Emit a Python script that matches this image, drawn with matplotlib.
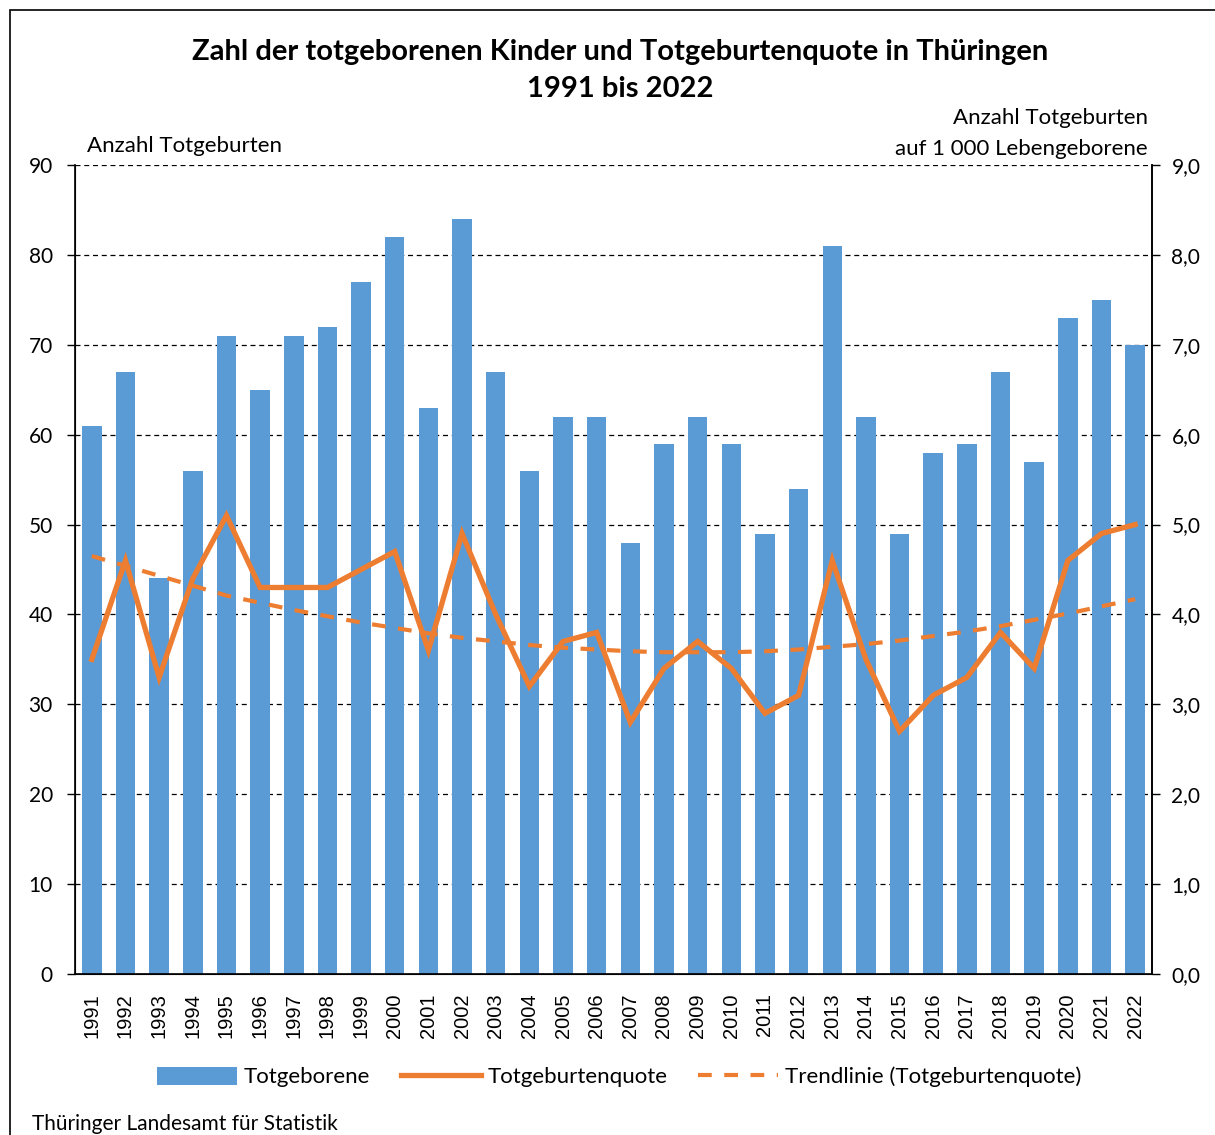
import matplotlib
matplotlib.use("Agg")
import matplotlib.pyplot as plt
from matplotlib.lines import Line2D
from matplotlib.patches import Patch, Rectangle

plt.rcParams['font.family'] = ['Lato', 'DejaVu Sans']

years = [str(y) for y in range(1991, 2023)]
totgeborene = [61, 67, 44, 56, 71, 65, 71, 72, 77, 82, 63, 84, 67, 56, 62, 62,
               48, 59, 62, 59, 49, 54, 81, 62, 49, 58, 59, 67, 57, 73, 75, 70]
quote = [3.5, 4.6, 3.3, 4.4, 5.1, 4.3, 4.3, 4.3, 4.5, 4.7, 3.6, 4.9, 4.0, 3.2, 3.7, 3.8,
         2.8, 3.4, 3.7, 3.4, 2.9, 3.1, 4.6, 3.5, 2.7, 3.1, 3.3, 3.8, 3.4, 4.6, 4.9, 5.0]
trend = [4.65, 4.54, 4.43, 4.32, 4.21, 4.13, 4.05, 3.98, 3.91, 3.85, 3.79, 3.74, 3.70, 3.66,
         3.63, 3.61, 3.59, 3.58, 3.58, 3.58, 3.59, 3.61, 3.64, 3.67, 3.71, 3.76, 3.81, 3.87,
         3.94, 4.01, 4.09, 4.17]
left_ticks = [0, 10, 20, 30, 40, 50, 60, 70, 80, 90]
right_labels = ['0,0', '1,0', '2,0', '3,0', '4,0', '5,0', '6,0', '7,0', '8,0', '9,0']

BLUE = '#5B9BD5'
ORANGE = '#ED7D31'

W, H = 1215, 1135
fig = plt.figure(figsize=(W / 100, H / 100), dpi=100)

# outer frame
fig.patches.append(Rectangle((10 / W, -0.1), 1.2, (H - 10) / H + 0.1, transform=fig.transFigure,
                             fill=False, edgecolor='black', linewidth=1.2))

ax = fig.add_axes([75 / W, 1 - 974 / H, (1152 - 75) / W, (974 - 165) / H])
x = list(range(len(years)))
ax.bar(x, totgeborene, width=0.58, color=BLUE, zorder=2)
ax.set_xlim(-0.5, len(years) - 0.5)
ax.set_ylim(0, 90)
ax.set_yticks(left_ticks)
ax.set_yticklabels([str(t) for t in left_ticks], fontsize=15)
ax.yaxis.grid(True, linestyle=(0, (4, 3)), color='black', linewidth=0.9, zorder=0)
ax.set_axisbelow(True)
ax.set_xticks(x)
ax.set_xticklabels(years, rotation=90, fontsize=14.5, family=['Liberation Sans', 'DejaVu Sans'])
ax.tick_params(axis='x', length=0, pad=14)
ax.tick_params(axis='y', length=6, width=1, direction='out', pad=10)
ax.spines['top'].set_visible(False)
for s in ['left', 'bottom', 'right']:
    ax.spines[s].set_linewidth(1.2)

ax2 = ax.twinx()
ax2.plot(x, quote, color=ORANGE, linewidth=3.8, zorder=4, solid_joinstyle='miter')
ax2.plot(x, trend, color=ORANGE, linewidth=3.0, linestyle=(0, (3.3, 3.0)), zorder=3)
ax2.set_ylim(0, 9)
ax2.set_yticks([t / 10 for t in left_ticks])
ax2.set_yticklabels(right_labels, fontsize=15)
ax2.tick_params(axis='y', length=6, width=1, direction='out', pad=8)
ax2.spines['top'].set_visible(False)
ax2.spines['right'].set_linewidth(1.2)
ax2.set_xlim(-0.5, len(years) - 0.5)

fig.text(620 / W, 1 - 52 / H, 'Zahl der totgeborenen Kinder und Totgeburtenquote in Thüringen',
         ha='center', va='center', fontsize=21, fontweight='bold')
fig.text(620 / W, 1 - 89 / H, '1991 bis 2022', ha='center', va='center', fontsize=21,
         fontweight='bold')
fig.text(87 / W, 1 - 146 / H, 'Anzahl Totgeburten', ha='left', va='center', fontsize=16)
fig.text(1148 / W, 1 - 118 / H, 'Anzahl Totgeburten', ha='right', va='center', fontsize=16)
fig.text(1148 / W, 1 - 149 / H, 'auf 1 000 Lebengeborene', ha='right', va='center', fontsize=16)
fig.text(32 / W, 1 - 1124 / H, 'Thüringer Landesamt für Statistik', ha='left', va='center',
         fontsize=15)

handles = [Patch(facecolor=BLUE, edgecolor='none'),
           Line2D([], [], color=ORANGE, linewidth=3.8),
           Line2D([], [], color=ORANGE, linewidth=3.0, linestyle=(0, (3.3, 3.0)))]
labels = ['Totgeborene', 'Totgeburtenquote', 'Trendlinie (Totgeburtenquote)']
fig.legend(handles, labels, loc='center', bbox_to_anchor=(619 / W, 1 - 1077 / H), ncol=3,
           frameon=False, fontsize=16, handlelength=3.6, handleheight=0.9,
           columnspacing=1.4, handletextpad=0.3)

fig.savefig('out.png', dpi=100)
